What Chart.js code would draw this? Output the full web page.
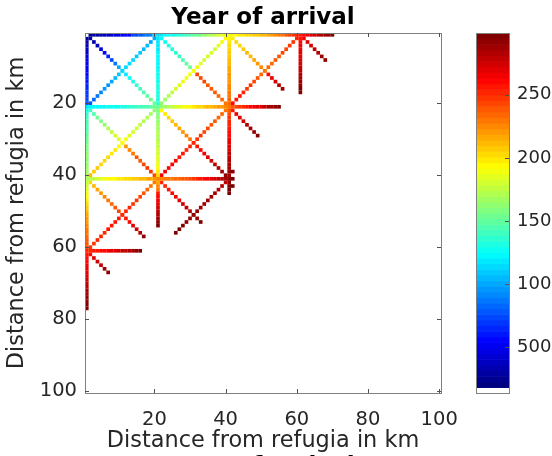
<!DOCTYPE html>
<html><head><meta charset="utf-8">
<script src="https://cdn.jsdelivr.net/npm/chart.js@4.4.0/dist/chart.umd.min.js"></script>
<style>html,body{margin:0;padding:0;background:#fff;overflow:hidden}#wrap{position:relative;width:552px;height:456px}</style>
</head><body><div id="wrap"><canvas id="c" width="552" height="456"></canvas></div>
<script>
// ---------- tick labels ----------
const xTicks = [20, 40, 60, 80, 100];
const yTicks = [20, 40, 60, 80, 100];
const cbTicks = [50, 100, 150, 200, 250];
const cbTickLabels = ['500', '100', '150', '200', '250'];
const titleText = 'Year of arrival';
const xTitle = 'Distance from refugia in km';
const yTitle = 'Distance from refugia in km';
const CMIN = 13.6, CMAX = 299;

// ---------- year of arrival along each corridor (one value per cell) ----------
const topRow = [15,24,27,30,33,36,39,42,45,48,51,54,57,72,76,80,84,88,92,112,116,119,122,126,129,132,135,138,141,144,148,152,156,161,166,171,176,181,185,188,191,194,196,198,200,202,204,206,208,210,212,216,220,224,228,232,237,242,247,252,257,261,265,269,273,278,283,288,293,298];
const col1 = [24,28,32,36,40,44,47,50,53,56,58,60,62,64,66,68,70,72,74,128,133,137,140,143,145,147,149,151,153,155,157,159,161,163,164,165,166,167,168,170,175,180,185,190,195,199,203,207,211,215,219,222,225,228,231,234,237,240,243,252,256,259,262,265,268,271,274,277,280,283,286,289,292,294,296,298];
const row21 = [120,121,122,123,124,125,126,127,128,129,131,133,135,137,139,141,143,146,149,152,156,162,167,172,177,181,185,189,192,195,198,201,205,208,211,214,217,220,223,226,232,237,242,247,251,256,260,264,268,272,277,282,287,292,297];
const col21 = [117,118,119,120,121,122,123,124,125,126,127,128,129,130,131,132,133,134,136,156,158,160,162,164,166,168,170,172,174,176,178,180,182,184,186,190,194,198,204,212,218,224,230,258,262,266,270,274,278,283,288,293,297];
const col41 = [196,199,203,205,207,209,211,213,215,217,219,221,223,225,227,229,231,233,235,238,241,244,247,250,254,257,260,263,266,269,272,275,278,280,282,284,286,288,290,292,294,296,297,298];
const row41 = [170,173,176,182,186,189,192,194,196,198,200,202,205,207,209,211,213,215,217,219,224,226,228,230,232,234,236,238,240,243,246,254,258,262,266,270,274,279,284,289,294,297];
const col61 = [258,261,264,267,270,272,274,276,278,281,284,287,290,293,296,298];
const row61 = [254,256,258,260,262,265,268,271,274,277,280,284,288,292,296];
const diag1 = [28,34,40,47,55,64,74,86,100,112,120,127,133,138,142,146,149,152,154];
const diag2 = [100,102,104,106,108,110,112,114,116,114,110,106,102,98,94,90,86,82,78];
const diag3 = [122,126,130,134,138,142,146,150,154,190,244,243,242,241,240,238,236,234,232];
const diag4 = [194,190,186,182,180,180,182,185,188,191,191,190,188,186,182,177,172,167,162];
const diag5 = [198,201,204,207,210,214,218,222,226,232,262,268,275,282,290];
const diag6 = [250,248,246,244,242,240,238,236,234,232,236,240,243,246,249,252,255,257,259];
const diag7 = [266,270,274,278,283,288,293];
const diag8 = [140,146,152,158,164,170,176,181,186,191,220,226,232,237,241,244,246,246,244];
const diag9 = [165,168,171,174,177,180,183,186,189,192,195,197,199,201,203,205,207,208,210];
const diag10 = [196,200,204,208,212,216,220,224,228,232,256,260,264,268,273,278,283,288,293];
const diag11 = [232,234,236,238,240,242,244,246,248,250,252,254,256,258,260,262,263,264,265];
const diag12 = [258,264,270,276,282,287,292,296];
const diag13 = [205,210,215,220,225,230,235,240,245,250,256,262,268,276,284,292];
const diag14 = [228,232,236,240,243,246,249,251,253,254,255,256,256,255,254,252,250,248,246];
const diag15 = [250,254,258,262,266,270,274,278,282,286,290,295];
const diag16 = [280,282,284,286,287,288,289,290,291,292,293,294,295,296,297];
const diag17 = [262,268,274,280,286,292];
const stubX = [42, 42];
const stubY = [39, 43];
const stubV = [296, 297];

// corridor: first cell (km), step direction, values
const corridors = [
  [2,2,1,1,diag1],[20,2,-1,1,diag2],[22,2,1,1,diag3],[40,2,-1,1,diag4],
  [42,2,1,1,diag5],[60,2,-1,1,diag6],[62,2,1,1,diag7],
  [2,22,1,1,diag8],[20,22,-1,1,diag9],[22,22,1,1,diag10],[40,22,-1,1,diag11],[42,22,1,1,diag12],
  [2,42,1,1,diag13],[20,42,-1,1,diag14],[22,42,1,1,diag15],[40,42,-1,1,diag16],[2,62,1,1,diag17],
  [1,2,0,1,col1],[21,2,0,1,col21],[41,2,0,1,col41],[61,2,0,1,col61],
  [1,21,1,0,row21],[1,41,1,0,row41],[2,61,1,0,row61],[1,1,1,0,topRow]
];
const cells = [];
corridors.forEach(([x0,y0,dx,dy,vals]) => vals.forEach((v,i) => cells.push({x:x0+i*dx, y:y0+i*dy, v})));
stubX.forEach((x,i) => cells.push({x, y:stubY[i], v:stubV[i]}));

// ---------- colormap: white + jet(63) ----------
const NBINS = 64;
function jet(t){ const c = q => Math.max(0, Math.min(1, q)); return [c(1.5-Math.abs(4*t-3)), c(1.5-Math.abs(4*t-2)), c(1.5-Math.abs(4*t-1))]; }
function binColor(i){ if (i <= 0) return '#ffffff'; const [r,g,b] = jet((i-1)/(NBINS-2)); return `rgb(${Math.round(r*255)},${Math.round(g*255)},${Math.round(b*255)})`; }
function valueColor(v){ let i = Math.floor((v-CMIN)/(CMAX-CMIN)*NBINS); i = Math.max(0, Math.min(NBINS-1, i)); return binColor(i); }

const FONT = "'DejaVu Sans', sans-serif";
Chart.defaults.font.family = FONT;
const TXT = '#262626';
const TICKFONT = 19.5, CBFONT = 18, LABELFONT = 22.4, TITLEFONT = 23;

const decor = {
  id: 'decor',
  afterDatasetsDraw(chart){
    const {ctx, chartArea:a, scales:{x, y, cb}} = chart;
    ctx.save();
    ctx.strokeStyle = '#808080'; ctx.lineWidth = 1;
    ctx.strokeRect(Math.round(a.left)+0.5, Math.round(a.top)+0.5, Math.round(a.right-a.left), Math.round(a.bottom-a.top));
    ctx.strokeStyle = '#505050';
    ctx.beginPath();
    xTicks.forEach(v => { const p = Math.round(x.getPixelForValue(v))+0.5;
      ctx.moveTo(p, a.top); ctx.lineTo(p, a.top+4); ctx.moveTo(p, a.bottom); ctx.lineTo(p, a.bottom-4); });
    yTicks.forEach(v => { const p = Math.round(y.getPixelForValue(v))+0.5;
      ctx.moveTo(a.left, p); ctx.lineTo(a.left+4, p); ctx.moveTo(a.right, p); ctx.lineTo(a.right-4, p); });
    ctx.stroke();
    // colorbar
    const L = 476, R = 509, bw = (CMAX-CMIN)/NBINS;
    for (let i = 0; i < NBINS; i++) {
      const y0 = cb.getPixelForValue(CMIN + i*bw), y1 = cb.getPixelForValue(CMIN + (i+1)*bw);
      ctx.fillStyle = binColor(i);
      ctx.fillRect(L, y1, R-L, y0-y1+0.6);
    }
    ctx.strokeStyle = '#808080';
    ctx.strokeRect(L+0.5, Math.round(a.top)+0.5, R-L, Math.round(a.bottom-a.top));
    ctx.strokeStyle = '#505050';
    ctx.beginPath();
    cbTicks.forEach(v => { const p = Math.round(cb.getPixelForValue(v))+0.5; ctx.moveTo(R, p); ctx.lineTo(R-4, p); });
    ctx.stroke();
    // the next panel's title, cut by the bottom edge
    ctx.fillStyle = '#000';
    ctx.font = 'bold ' + TITLEFONT + 'px ' + FONT;
    ctx.textAlign = 'center'; ctx.textBaseline = 'alphabetic';
    ctx.fillText(titleText, (a.left+a.right)/2, 473);
    ctx.restore();
  }
};

function cellRadius(c){
  const xs = c.chart.scales.x, ys = c.chart.scales.y;
  const w = Math.abs(xs.getPixelForValue(1)-xs.getPixelForValue(0));
  const h = Math.abs(ys.getPixelForValue(1)-ys.getPixelForValue(0));
  return Math.max(w, h) * 1.02 / Math.SQRT2;
}

const noGrid = { display: false, drawTicks: false };

new Chart(document.getElementById('c'), {
  type: 'scatter',
  data: { datasets: [{
    data: cells,
    pointStyle: 'rect',
    pointRadius: cellRadius,
    pointHoverRadius: cellRadius,
    pointBorderWidth: 0,
    backgroundColor: c => valueColor(c.raw.v),
    borderColor: 'rgba(0,0,0,0)'
  }]},
  options: {
    responsive: false, animation: false, events: [], devicePixelRatio: 1,
    layout: { padding: 0 },
    plugins: {
      legend: { display: false }, tooltip: { enabled: false },
      title: { display: true, text: titleText, fullSize: false, color: '#000',
        font: { size: TITLEFONT, weight: 'bold' }, padding: { top: 4, bottom: 1.4 } }
    },
    scales: {
      x: { type: 'linear', position: 'bottom', min: 0.5, max: 100.5,
        grid: noGrid, border: { display: false },
        ticks: { color: TXT, font: { size: TICKFONT }, padding: 15, autoSkip: false, maxRotation: 0 },
        afterBuildTicks: s => { s.ticks = xTicks.map(v => ({ value: v })); },
        afterFit: s => { s.height = 63; s.paddingLeft = 0; s.paddingRight = 0; },
        title: { display: true, text: xTitle, color: TXT, font: { size: LABELFONT }, padding: { top: 0, bottom: 1.6 } } },
      y: { type: 'linear', position: 'left', reverse: true, min: 0.5, max: 100.5,
        grid: noGrid, border: { display: false },
        ticks: { color: TXT, font: { size: TICKFONT }, padding: 8, autoSkip: false },
        afterBuildTicks: s => { s.ticks = yTicks.map(v => ({ value: v })); },
        afterFit: s => { s.width = 85; s.paddingTop = 0; s.paddingBottom = 0; },
        title: { display: true, text: yTitle, color: TXT, font: { size: LABELFONT }, padding: { top: 3.6, bottom: 0 } } },
      cb: { type: 'linear', position: 'right', min: CMIN, max: CMAX,
        grid: noGrid, border: { display: false },
        ticks: { color: TXT, font: { size: CBFONT }, padding: 76, autoSkip: false,
          callback: (v, i) => cbTickLabels[i] },
        afterBuildTicks: s => { s.ticks = cbTicks.map(v => ({ value: v })); },
        afterFit: s => { s.width = 111; s.paddingTop = 0; s.paddingBottom = 0; } }
    }
  },
  plugins: [decor]
});
</script></body></html>
